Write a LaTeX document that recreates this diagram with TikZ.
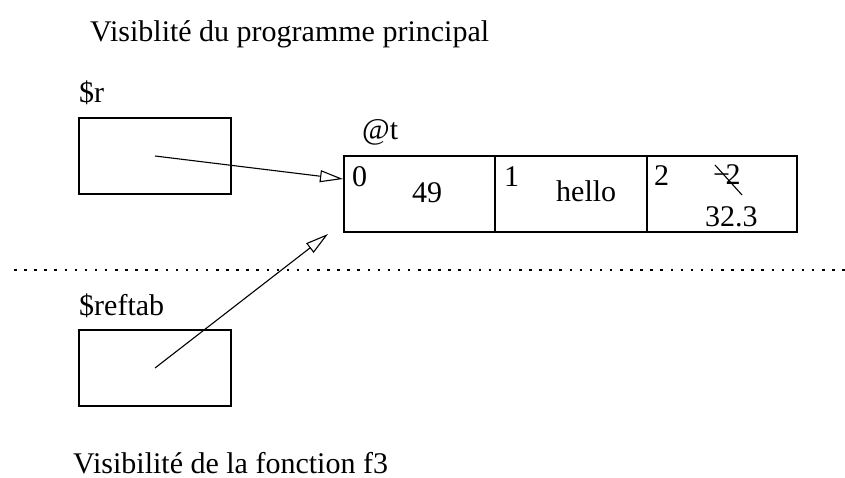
\documentclass[tikz,border=0pt]{standalone}
\usepackage{fontspec}
\setmainfont{Liberation Serif}
\usetikzlibrary{arrows.meta}
\begin{document}
\begin{tikzpicture}[x=1pt,y=-1pt,
  txt/.style={anchor=base west,inner sep=0pt,font=\fontsize{30}{34}\selectfont},
  box/.style={draw,line width=1.2pt},
  ptr/.style={line width=1.1pt,-{Triangle[open,length=23pt,width=12pt,line width=1.1pt]}}]
\useasboundingbox (0,0) rectangle (845,478);
% titles
\node[txt] (title) at (90,42) {Visiblité du programme principal};
\node[txt] (title2) at (73,473) {Visibilité de la fonction f3};
% variable $r
\node[txt] (rlab) at (79,103) {\$r};
\draw[box] (79,118) rectangle (231,194);
\coordinate (rsrc) at (155,156);
% variable $reftab
\node[txt] (reftablab) at (79,315) {\$reftab};
\draw[box] (79,330) rectangle (231,406);
\coordinate (refsrc) at (155,368);
% array @t
\node[txt] (tlab) at (362,140) {@t};
\draw[box] (344,156) rectangle (797,232);
\draw[box] (495,156) -- (495,232);
\draw[box] (647,156) -- (647,232);
\node[txt] (i0) at (352,187) {0};
\node[txt] (v0) at (412,203) {49};
\node[txt] (i1) at (504,187) {1};
\node[txt] (v1) at (556,202) {hello};
\node[txt] (i2) at (654,186) {2};
\node[txt] (old2) at (713,185) {−\kern-4.5pt2};
\node[txt] (v2) at (705,226) {32.3};
\draw[line width=1.1pt] (715,165) -- (742,195);
\coordinate (tipA) at (343,179);
\coordinate (tipB) at (328,234);
% separator
\draw[line width=2pt,dash pattern=on 2.5pt off 7.6pt] (14,270) -- (845,270);
% pointers
\draw[ptr] (rsrc) -- (tipA);
\draw[ptr] (refsrc) -- (tipB);
\end{tikzpicture}
\end{document}
